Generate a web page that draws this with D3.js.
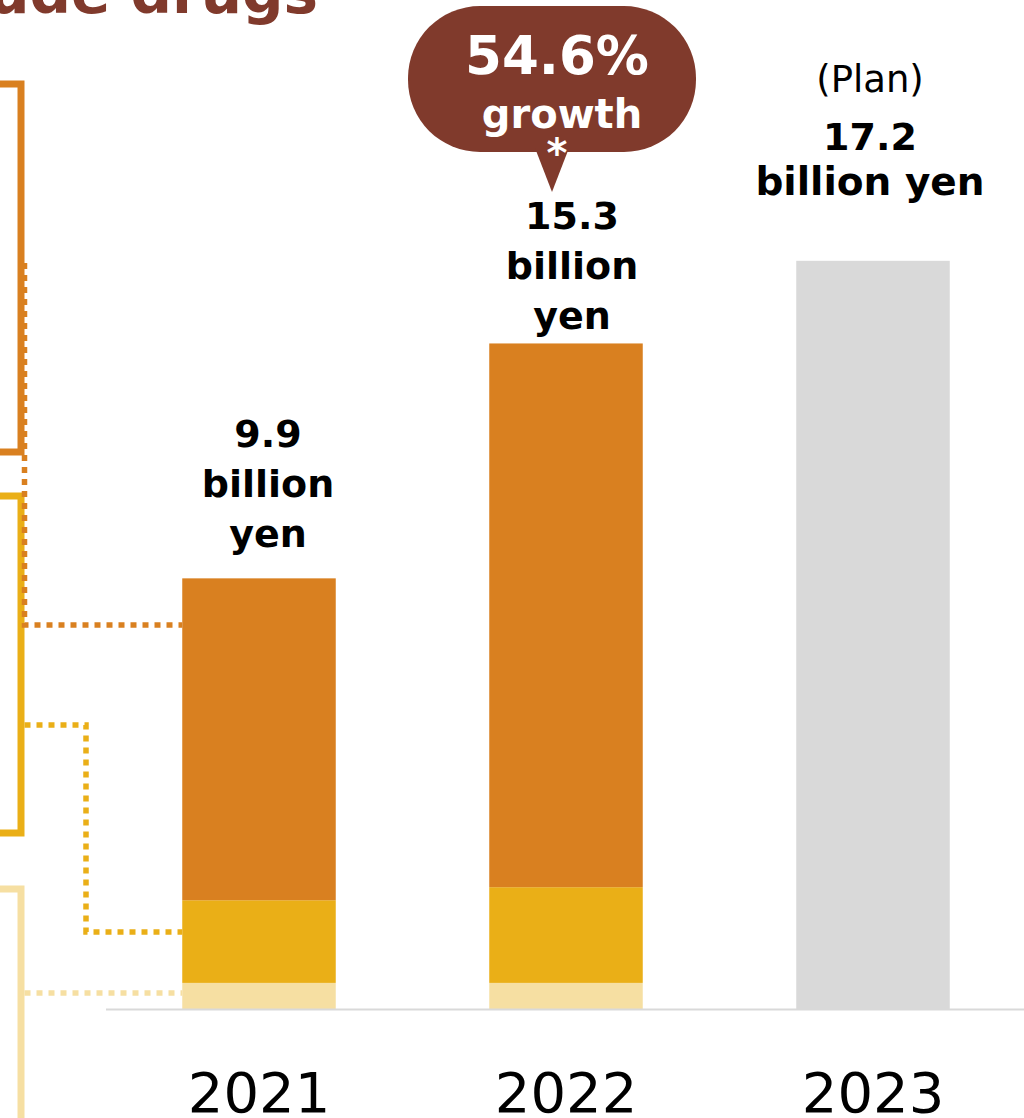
<!DOCTYPE html>
<html>
<head>
<meta charset="utf-8">
<script src="https://cdn.jsdelivr.net/npm/d3@7"></script>
<style>
  html, body { margin: 0; padding: 0; background: #fff; }
  svg { display: block; font-family: "DejaVu Sans", Verdana, sans-serif; }
</style>
</head>
<body>
<svg id="chart" width="1024" height="1118"></svg>
<script>
// ---- data (billion yen) ----
const years = ["2021", "2022", "2023"];
const actualYears = ["2021", "2022"];
const baseSegment = [0.6, 0.6];     // light band at the bottom of each bar
const middleSegment = [1.9, 2.2];   // yellow band
const topSegment = [7.4, 12.5];     // orange band
const totals = [9.9, 15.3, 17.2];
const planYear = "2023";
const planValue = 17.2;
const growthText = "54.6%";

// ---- colours ----
const colOrange = "#D98020";
const colYellow = "#EAAF17";
const colLight = "#F6DFA2";
const colPlan = "#D9D9D9";
const colBrown = "#803A2C";

const svg = d3.select("#chart");

const x = d3.scaleBand().domain(years).range([105.5, 1026.5])
  .paddingInner(0.5).paddingOuter(0.25);
const y = d3.scaleLinear().domain([0, 20]).range([1009, 139]);

// ---- title (runs off the top-left edge) ----
svg.append("text")
  .attr("x", 318).attr("y", 13)
  .attr("text-anchor", "end")
  .attr("font-size", 58).attr("font-weight", "bold")
  .attr("fill", colBrown)
  .text("Sales of crude drugs");

// ---- category brackets on the left ----
const brackets = [
  { top: 84, bottom: 452, color: colOrange },
  { top: 496, bottom: 833, color: colYellow },
  { top: 889, bottom: 1200, color: colLight }
];
svg.append("g").selectAll("rect").data(brackets).join("rect")
  .attr("x", -40).attr("y", d => d.top)
  .attr("width", 61).attr("height", d => d.bottom - d.top)
  .attr("fill", "none").attr("stroke", d => d.color).attr("stroke-width", 7);

// ---- stacked bars ----
const stackRows = actualYears.map((yr, i) => ({
  year: yr, base: baseSegment[i], middle: middleSegment[i], top: topSegment[i]
}));
const keys = ["base", "middle", "top"];
const keyColor = { base: colLight, middle: colYellow, top: colOrange };
const stacked = d3.stack().keys(keys)(stackRows);

svg.append("g").selectAll("g").data(stacked).join("g")
  .attr("fill", s => keyColor[s.key])
  .selectAll("rect").data(s => s).join("rect")
  .attr("x", d => x(d.data.year))
  .attr("y", d => y(d[1]))
  .attr("width", x.bandwidth())
  .attr("height", d => y(d[0]) - y(d[1]));

// plan bar
svg.append("rect")
  .attr("x", x(planYear)).attr("y", y(planValue))
  .attr("width", x.bandwidth()).attr("height", y(0) - y(planValue))
  .attr("fill", colPlan);

// ---- dotted connectors from brackets to the 2021 bar ----
const barLeft = x("2021");
const connectors = [
  { color: colOrange, pts: [[24.5, 263], [24.5, 625], [barLeft, 625]] },
  { color: colYellow, pts: [[24.5, 725], [86, 725], [86, 932], [barLeft, 932]] },
  { color: colLight, pts: [[24.5, 993], [barLeft, 993]] }
];
svg.append("g").selectAll("path").data(connectors).join("path")
  .attr("d", d => d3.line()(d.pts))
  .attr("fill", "none").attr("stroke", d => d.color)
  .attr("stroke-width", 5.5).attr("stroke-dasharray", "6 6");

// ---- axis ----
const axis = svg.append("g")
  .attr("transform", `translate(0,${y(0)})`)
  .call(d3.axisBottom(x).tickSize(0));
axis.select(".domain").attr("stroke", "#D9D9D9").attr("stroke-width", 2);
axis.selectAll(".tick text")
  .attr("y", 103).attr("dy", null)
  .attr("font-size", 56).attr("fill", "#000")
  .attr("font-family", "DejaVu Sans, Verdana, sans-serif");

// ---- value labels above the actual bars ----
const labelGap = [31, 14];     // gap from bar top to last label baseline
const labelShift = [9, 6];     // horizontal nudge of the label block
actualYears.forEach((yr, i) => {
  const lines = [String(totals[i]), "billion", "yen"];
  const cx = x(yr) + x.bandwidth() / 2 + labelShift[i];
  const lastBase = y(totals[i]) - labelGap[i];
  svg.append("g").selectAll("text").data(lines).join("text")
    .attr("x", cx)
    .attr("y", (d, k) => lastBase - (lines.length - 1 - k) * 50)
    .attr("text-anchor", "middle")
    .attr("font-size", 38).attr("font-weight", "bold").attr("fill", "#000")
    .text(d => d);
});

// plan label
const planCx = x(planYear) + x.bandwidth() / 2 - 3;
const planTop = y(planValue);
svg.append("text").attr("x", planCx).attr("y", planTop - 169)
  .attr("text-anchor", "middle").attr("font-size", 37).attr("fill", "#000")
  .text("(Plan)");
svg.append("text").attr("x", planCx).attr("y", planTop - 111)
  .attr("text-anchor", "middle").attr("font-size", 38).attr("font-weight", "bold")
  .attr("fill", "#000").text(String(planValue));
svg.append("text").attr("x", planCx).attr("y", planTop - 66)
  .attr("text-anchor", "middle").attr("font-size", 39).attr("font-weight", "bold")
  .attr("fill", "#000").text("billion yen");

// ---- growth callout ----
const callout = svg.append("g");
callout.append("rect")
  .attr("x", 408).attr("y", 6).attr("width", 288).attr("height", 146)
  .attr("rx", 72).attr("ry", 72).attr("fill", colBrown);
callout.append("path")
  .attr("d", "M535,148 L569,148 L552,192 Z").attr("fill", colBrown);
callout.append("text").attr("x", 557).attr("y", 74)
  .attr("text-anchor", "middle").attr("font-size", 53).attr("font-weight", "bold")
  .attr("fill", "#fff").text(growthText);
callout.append("text").attr("x", 562).attr("y", 128)
  .attr("text-anchor", "middle").attr("font-size", 40).attr("font-weight", "bold")
  .attr("fill", "#fff").text("growth");
callout.append("text").attr("x", 557).attr("y", 167)
  .attr("text-anchor", "middle").attr("font-size", 40).attr("font-weight", "bold")
  .attr("fill", "#fff").text("*");
</script>
</body>
</html>
